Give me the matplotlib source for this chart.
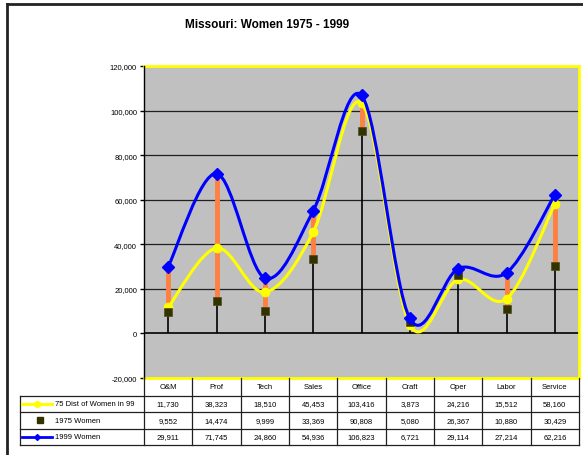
import matplotlib
matplotlib.use('Agg')
import matplotlib.pyplot as plt
import matplotlib.transforms as mtransforms
from matplotlib.path import Path
from matplotlib.patches import PathPatch, Rectangle
from matplotlib.lines import Line2D

plt.rcParams['font.family'] = ['Liberation Sans', 'DejaVu Sans']

categories = ['O&M', 'Prof', 'Tech', 'Sales', 'Office', 'Craft', 'Oper', 'Labor', 'Service']
dist_99 = [11730, 38323, 18510, 45453, 103416, 3873, 24216, 15512, 58160]
women_1975 = [9552, 14474, 9999, 33369, 90808, 5080, 26367, 10880, 30429]
women_1999 = [29911, 71745, 24860, 54936, 106823, 6721, 29114, 27214, 62216]
series_names = ['75 Dist of Women in 99', '1975 Women', '1999 Women']
yticks = [-20000, 0, 20000, 40000, 60000, 80000, 100000, 120000]

W, H = 583, 456
fig = plt.figure(figsize=(W / 100, H / 100), dpi=100)

# plot area in pixels
L, R, T, B = 144, 579, 67, 379
ax = fig.add_axes([L / W, 1 - B / H, (R - L) / W, (B - T) / H])
ax.set_facecolor('#C0C0C0')
ax.set_xlim(-0.5, len(categories) - 0.5)
ax.set_ylim(-20000, 120000)
ax.set_yticks(yticks)
ax.set_yticklabels([f'{v:,}' for v in yticks], fontsize=5.5)
ax.set_xticks([])
ax.tick_params(axis='y', direction='out', length=3, width=1, pad=2)
for s in ['top', 'right', 'bottom']:
    ax.spines[s].set_color('#FFFF00')
    ax.spines[s].set_linewidth(2)
ax.spines['left'].set_color('black')
ax.spines['left'].set_linewidth(1)
ax.spines['left'].set_zorder(6)
for v in yticks[1:-1]:
    ax.axhline(v, color='#202020' if v else 'black', lw=0.9 if v else 1.2, zorder=1)

xs = list(range(len(categories)))


def smooth(xv, yv):
    # Excel-style smoothed line as cubic bezier segments
    n = len(xv)
    verts = [(xv[0], yv[0])]
    codes = [Path.MOVETO]
    for i in range(n - 1):
        a, b = max(i - 1, 0), min(i + 2, n - 1)
        c1 = (xv[i] + (xv[i + 1] - xv[a]) / 6, yv[i] + (yv[i + 1] - yv[a]) / 6)
        c2 = (xv[i + 1] - (xv[b] - xv[i]) / 6, yv[i + 1] - (yv[b] - yv[i]) / 6)
        verts += [c1, c2, (xv[i + 1], yv[i + 1])]
        codes += [Path.CURVE4] * 3
    return Path(verts, codes)


hi = [max(t) for t in zip(dist_99, women_1975, women_1999)]
lo = [min(t) for t in zip(dist_99, women_1975, women_1999)]
ax.vlines(xs, 0, hi, color='black', lw=1.2, zorder=2)
ax.vlines(xs, lo, hi, color='#FF8040', lw=3.5, zorder=3)

ax.add_patch(PathPatch(smooth(xs, dist_99), fill=False, edgecolor='#FFFF00', lw=2.2, zorder=4))
ax.plot(xs, dist_99, ls='none', marker='o', ms=6, color='#FFFF00', zorder=5)
ax.plot(xs, women_1975, ls='none', marker='s', ms=5.5, mfc='#333300', mec='#4d4d1a', mew=0.5, zorder=5)
ax.add_patch(PathPatch(smooth(xs, women_1999), fill=False, edgecolor='#0000FF', lw=2.2, zorder=6))
ax.plot(xs, women_1999, ls='none', marker='D', ms=6.5, color='#0000FF', zorder=7)

# overlay in pixel coordinates for frame, title and data table
ov = fig.add_axes([0, 0, 1, 1], facecolor='none')
ov.set_xlim(0, W)
ov.set_ylim(H, 0)
ov.axis('off')
ov.add_line(Line2D([7, 7], [5, H], color='#222222', lw=2))
ov.add_line(Line2D([7, W], [5, 5], color='#222222', lw=2))
ov.text(267, 25, 'Missouri: Women 1975 - 1999', ha='center', va='center',
        fontsize=8.5, fontweight='bold')

tr = mtransforms.blended_transform_factory(ax.transData, ov.transData)
rows = [397, 413, 430, 446]
lc = dict(color='#202020', lw=0.9)
for i in range(len(categories) + 1):
    ov.add_line(Line2D([i - 0.5, i - 0.5], [B, rows[-1]], transform=tr, **lc))
for y in rows:
    ov.add_line(Line2D([20, R], [y, y], **lc))
ov.add_line(Line2D([20, 20], [rows[0], rows[-1]], **lc))

for i, c in enumerate(categories):
    ov.text(i, (B + rows[0]) / 2, c, transform=tr, ha='center', va='center', fontsize=5.5)
for r, vals in enumerate([dist_99, women_1975, women_1999]):
    yc = (rows[r] + rows[r + 1]) / 2
    for i, v in enumerate(vals):
        ov.text(i, yc, f'{v:,}', transform=tr, ha='center', va='center', fontsize=5.5)
    ov.text(55, yc, series_names[r], ha='left', va='center', fontsize=5.5)

y1 = (rows[0] + rows[1]) / 2
ov.add_line(Line2D([22, 52], [y1, y1], color='#FFFF00', lw=2.2))
ov.plot([37], [y1], marker='o', ms=4, color='#FFFF00')
y2 = (rows[1] + rows[2]) / 2
ov.plot([40], [y2], marker='s', ms=4, color='#333300')
y3 = (rows[2] + rows[3]) / 2
ov.add_line(Line2D([22, 52], [y3, y3], color='#0000FF', lw=2))
ov.plot([37], [y3], marker='D', ms=3, color='#0000FF')

fig.savefig('out.png', dpi=100)
